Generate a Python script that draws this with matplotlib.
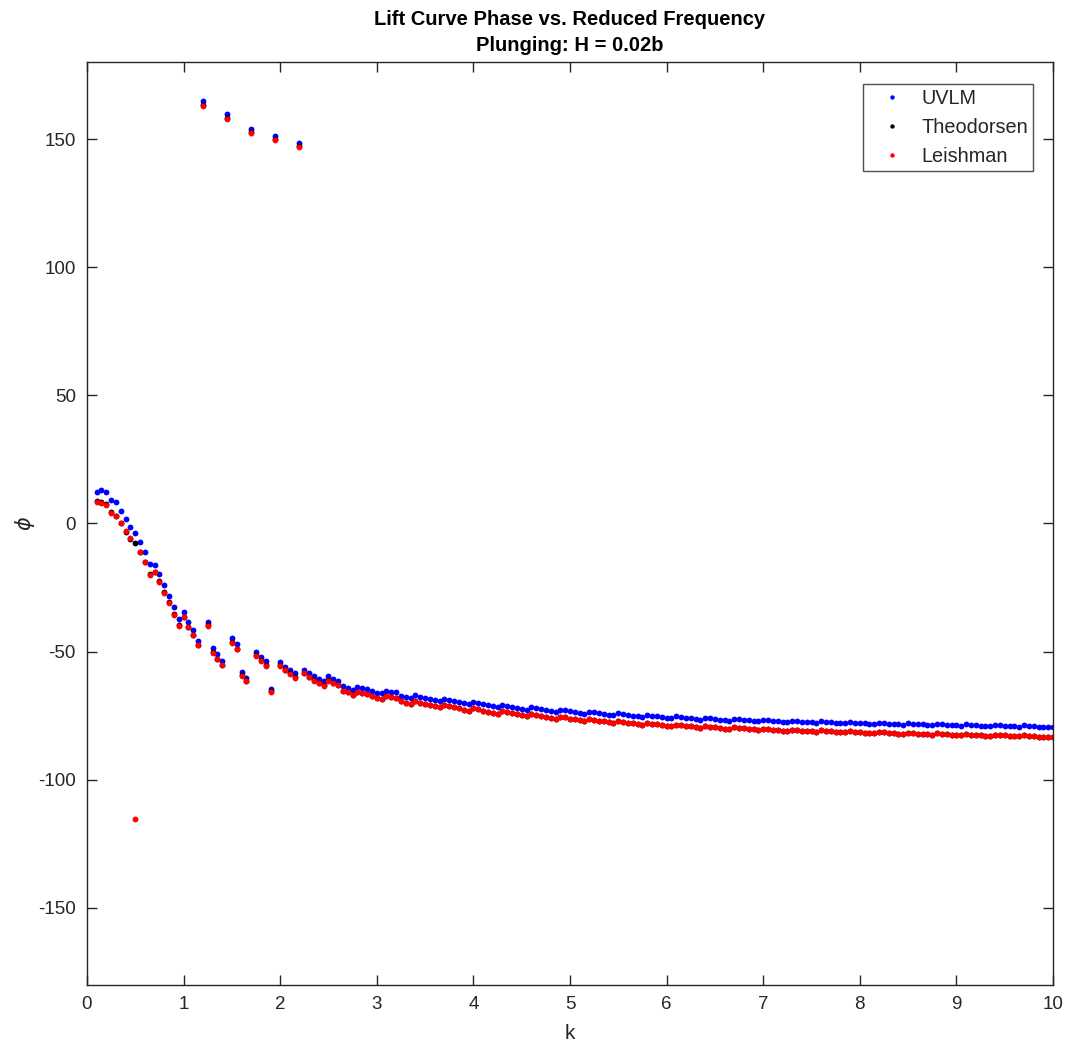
import numpy as np
import matplotlib
matplotlib.use("Agg")
import matplotlib.pyplot as plt

# Reduced frequency samples (uniform grid from 0.1 to 10, step 0.05)
k = np.linspace(0.1, 10.0, 199)

# Lift phase [deg], UVLM simulation
uvlm = [
    12.2, 13.1, 12.3, 9.0, 8.3, 5.0, 1.8, -1.2, -3.8, -7.3,
    -11.2, -15.9, -16.1, -19.8, -24.1, -28.3, -32.7, -37.1, -34.5, -38.3,
    -41.4, -45.7, 165.0, -38.3, -48.7, -50.9, -53.6, 159.7, -44.5, -47.0,
    -58.1, -60.3, 153.9, -50.0, -52.0, -53.8, -64.4, 151.2, -53.9, -55.9,
    -57.2, -58.2, 148.3, -57.0, -58.5, -59.6, -60.5, -61.3, -59.6, -60.7,
    -61.5, -63.5, -64.0, -65.0, -63.7, -64.1, -64.6, -65.4, -66.0, -66.3,
    -65.2, -65.6, -65.9, -67.2, -67.8, -68.2, -67.1, -67.6, -68.0, -68.4,
    -68.9, -69.4, -68.4, -68.8, -69.3, -69.7, -70.2, -70.6, -69.6, -70.0,
    -70.5, -70.9, -71.3, -71.7, -70.7, -71.1, -71.5, -71.9, -72.3, -72.7,
    -71.7, -72.1, -72.5, -72.8, -73.2, -73.5, -72.6, -72.9, -73.3, -73.6,
    -73.9, -74.2, -73.4, -73.7, -74.0, -74.3, -74.6, -74.9, -74.1, -74.4,
    -74.7, -75.0, -75.2, -75.5, -74.7, -75.0, -75.3, -75.5, -75.8, -76.0,
    -75.3, -75.5, -75.8, -76.0, -76.2, -76.5, -75.8, -76.0, -76.3, -76.5,
    -76.7, -76.9, -76.2, -76.4, -76.6, -76.8, -77.0, -77.2, -76.6, -76.8,
    -77.0, -77.2, -77.4, -77.5, -76.9, -77.1, -77.3, -77.5, -77.6, -77.8,
    -77.2, -77.4, -77.6, -77.7, -77.9, -78.0, -77.5, -77.7, -77.8, -78.0,
    -78.1, -78.3, -77.7, -77.9, -78.1, -78.2, -78.4, -78.5, -78.0, -78.1,
    -78.3, -78.4, -78.6, -78.7, -78.2, -78.4, -78.5, -78.7, -78.8, -78.9,
    -78.4, -78.6, -78.7, -78.9, -79.0, -79.1, -78.6, -78.8, -78.9, -79.1,
    -79.2, -79.3, -78.8, -79.0, -79.1, -79.3, -79.4, -79.5, -79.3,
]

# Lift phase [deg], Theodorsen theory
theodorsen = [
    8.6, 8.5, 7.5, 4.4, 3.1, 0.3, -3.4, -5.9, -7.6, -11.0,
    -15.0, -19.9, -18.8, -22.6, -26.9, -30.8, -35.2, -39.8, -36.5, -40.2,
    -43.4, -47.3, 163.5, -39.5, -50.3, -52.7, -55.1, 158.2, -46.3, -48.8,
    -59.2, -61.4, 152.8, -51.4, -53.3, -55.3, -65.5, 150.1, -55.3, -57.1,
    -58.5, -60.0, 147.2, -58.3, -59.8, -61.1, -62.2, -63.1, -61.1, -62.2,
    -62.9, -65.3, -65.8, -66.8, -65.7, -66.1, -66.6, -67.4, -68.0, -68.3,
    -67.3, -67.7, -68.0, -69.3, -69.9, -70.3, -69.4, -69.9, -70.3, -70.7,
    -71.2, -71.7, -70.8, -71.2, -71.7, -72.1, -72.6, -73.0, -72.1, -72.5,
    -73.0, -73.4, -73.8, -74.2, -73.3, -73.7, -74.1, -74.5, -74.9, -75.3,
    -74.4, -74.8, -75.2, -75.5, -75.9, -76.2, -75.4, -75.7, -76.1, -76.4,
    -76.7, -77.0, -76.3, -76.6, -76.9, -77.2, -77.5, -77.8, -77.1, -77.4,
    -77.7, -78.0, -78.2, -78.5, -77.8, -78.1, -78.4, -78.6, -78.9, -79.1,
    -78.5, -78.7, -79.0, -79.2, -79.4, -79.7, -79.1, -79.3, -79.6, -79.8,
    -80.0, -80.2, -79.5, -79.7, -79.9, -80.1, -80.3, -80.5, -80.0, -80.2,
    -80.4, -80.6, -80.8, -80.9, -80.4, -80.6, -80.8, -81.0, -81.1, -81.3,
    -80.7, -80.9, -81.1, -81.2, -81.4, -81.5, -81.1, -81.3, -81.4, -81.6,
    -81.7, -81.9, -81.3, -81.5, -81.7, -81.8, -82.0, -82.1, -81.7, -81.8,
    -82.0, -82.1, -82.3, -82.4, -81.9, -82.1, -82.2, -82.4, -82.5, -82.6,
    -82.2, -82.4, -82.5, -82.7, -82.8, -82.9, -82.4, -82.6, -82.7, -82.9,
    -83.0, -83.1, -82.7, -82.9, -83.0, -83.2, -83.3, -83.4, -83.2,
]

# Lift phase [deg], Leishman approximation
leishman = [
    8.4, 7.9, 7.2, 4.2, 2.9, 0.1, -2.8, -5.8, -115.4, -11.1,
    -15.2, -20.0, -18.8, -22.7, -27.0, -30.9, -35.6, -39.9, -36.6, -40.3,
    -43.5, -47.4, 163.0, -39.9, -50.5, -52.9, -55.3, 157.8, -46.5, -49.0,
    -59.4, -61.6, 152.4, -51.6, -53.5, -55.5, -65.7, 149.7, -55.5, -57.3,
    -58.7, -60.2, 146.8, -58.5, -60.0, -61.3, -62.4, -63.3, -61.3, -62.4,
    -63.1, -65.3, -65.8, -66.8, -65.7, -66.1, -66.6, -67.4, -68.0, -68.3,
    -67.3, -67.7, -68.0, -69.3, -69.9, -70.3, -69.4, -69.9, -70.3, -70.7,
    -71.2, -71.7, -70.8, -71.2, -71.7, -72.1, -72.6, -73.0, -72.1, -72.5,
    -73.0, -73.4, -73.8, -74.2, -73.3, -73.7, -74.1, -74.5, -74.9, -75.3,
    -74.4, -74.8, -75.2, -75.5, -75.9, -76.2, -75.4, -75.7, -76.1, -76.4,
    -76.7, -77.0, -76.3, -76.6, -76.9, -77.2, -77.5, -77.8, -77.1, -77.4,
    -77.7, -78.0, -78.2, -78.5, -77.8, -78.1, -78.4, -78.6, -78.9, -79.1,
    -78.5, -78.7, -79.0, -79.2, -79.4, -79.7, -79.1, -79.3, -79.6, -79.8,
    -80.0, -80.2, -79.5, -79.7, -79.9, -80.1, -80.3, -80.5, -80.0, -80.2,
    -80.4, -80.6, -80.8, -80.9, -80.4, -80.6, -80.8, -81.0, -81.1, -81.3,
    -80.7, -80.9, -81.1, -81.2, -81.4, -81.5, -81.1, -81.3, -81.4, -81.6,
    -81.7, -81.9, -81.3, -81.5, -81.7, -81.8, -82.0, -82.1, -81.7, -81.8,
    -82.0, -82.1, -82.3, -82.4, -81.9, -82.1, -82.2, -82.4, -82.5, -82.6,
    -82.2, -82.4, -82.5, -82.7, -82.8, -82.9, -82.4, -82.6, -82.7, -82.9,
    -83.0, -83.1, -82.7, -82.9, -83.0, -83.2, -83.3, -83.4, -83.2,
]

x_ticks = [0, 1, 2, 3, 4, 5, 6, 7, 8, 9, 10]
y_ticks = [-150, -100, -50, 0, 50, 100, 150]

plt.rcParams["font.family"] = ["Liberation Sans", "DejaVu Sans"]
plt.rcParams["axes.unicode_minus"] = False
text_color = "#262626"

fig = plt.figure(figsize=(10.67, 10.53), dpi=100)
ax = fig.add_axes([0.0815, 0.0648, 0.9054, 0.8761])

series = [
    (uvlm, "#0000ff", "UVLM"),
    (theodorsen, "#000000", "Theodorsen"),
    (leishman, "#ff0000", "Leishman"),
]
for values, color, label in series:
    ax.plot(k, values, linestyle="none", marker="o", markersize=4.2,
            markeredgewidth=0, color=color, label=label)

ax.set_xlim(0, 10)
ax.set_ylim(-180, 180)
ax.set_xticks(x_ticks)
ax.set_yticks(y_ticks)
ax.tick_params(direction="in", length=7, width=1, colors=text_color,
               labelsize=13.5, top=True, right=True, pad=8)
for spine in ax.spines.values():
    spine.set_color(text_color)
    spine.set_linewidth(1.0)

ax.set_xlabel("k", fontsize=15, color=text_color, labelpad=8)
ax.set_ylabel(r"$\phi$", fontsize=15, color=text_color)
ax.yaxis.set_label_coords(-0.052, 0.5)
ax.set_title("Lift Curve Phase vs. Reduced Frequency\nPlunging: H = 0.02b",
             fontsize=14.5, fontweight="bold", color="black", pad=8,
             linespacing=1.45)

leg = ax.legend(loc="upper right", bbox_to_anchor=(0.9796, 0.9762),
                fontsize=14.3, frameon=True, fancybox=False, borderpad=0.25,
                handlelength=2.4, handletextpad=0.3, labelspacing=0.5,
                markerscale=0.75, borderaxespad=0)
leg.get_frame().set_edgecolor(text_color)
leg.get_frame().set_linewidth(1.0)
for t in leg.get_texts():
    t.set_color(text_color)

fig.savefig("out.png", dpi=100, facecolor="white")
